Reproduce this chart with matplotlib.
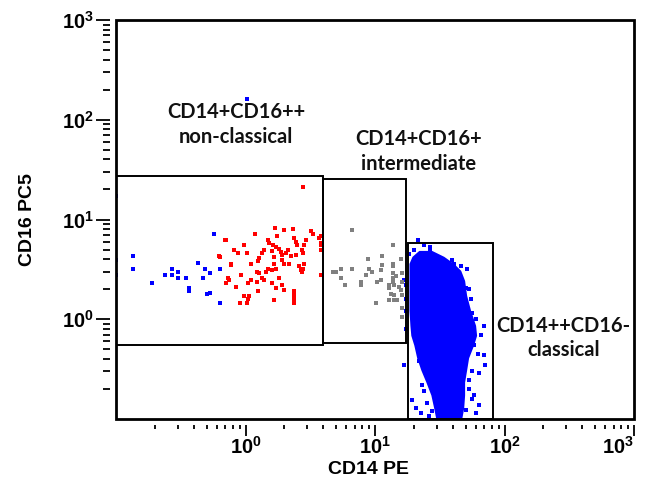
import math
import matplotlib
matplotlib.use("Agg")
import matplotlib.pyplot as plt
from matplotlib.patches import Rectangle
from matplotlib.ticker import LogLocator, FixedLocator, FuncFormatter, NullFormatter

plt.rcParams['mathtext.fontset'] = 'custom'
plt.rcParams['mathtext.rm'] = 'Liberation Sans:bold'
plt.rcParams['mathtext.bf'] = 'Liberation Sans:bold'
plt.rcParams['mathtext.it'] = 'Liberation Sans:bold'

# CD14 PE (x) / CD16 PC5 (y) values
# non-classical region, low CD14 events (blue)
low_x = [0.57, 0.135, 0.135, 0.43, 0.19, 0.24, 0.27, 0.27, 0.30, 0.30, 0.345, 0.47,
         0.49, 0.53, 0.365, 0.365, 0.50, 0.53, 0.63, 0.63, 1.02, 0.1, 0.1, 0.1]
low_y = [7.2, 4.3, 3.2, 3.7, 2.3, 2.8, 3.2, 2.8, 2.95, 2.6, 2.6, 2.6,
         3.2, 2.9, 2.05, 1.9, 1.8, 1.85, 3.2, 1.45, 160, 17.4, 3.9, 2.75]

# non-classical monocytes (red)
red_x = [1.70, 2.34, 2.0, 3.2, 3.3, 3.84, 1.19, 1.76, 0.71, 1.48, 1.53, 2.38, 2.47, 2.51,
         2.95, 2.84, 3.84, 3.84, 0.97, 1.64, 1.73, 1.83, 0.81, 0.87, 1.02, 1.40, 1.35, 1.89,
         1.93, 2.07, 2.14, 2.75, 2.79, 0.62, 1.28, 1.24, 1.67, 2.47, 0.77, 0.77, 1.11, 1.67,
         2.0, 2.18, 2.84, 1.48, 1.45, 1.59, 1.73, 1.22, 1.28, 2.70, 2.75, 0.93, 1.35, 1.40,
         3.84, 0.73, 0.75, 0.71, 1.11, 1.83, 1.04, 1.22, 1.59, 0.85, 1.93, 2.0, 1.73, 1.24,
         2.38, 1.07, 1.04, 0.98, 2.38, 2.38, 1.67, 0.90, 1.02, 2.38, 2.8, 0.70, 0.63, 2.79,
         3.7, 3.84, 1.6, 2.25, 1.9, 2.6]
red_y = [8.3, 8.1, 7.8, 7.6, 7.2, 6.8, 7.1, 6.8, 6.2, 6.2, 5.75, 6.5, 5.9, 5.6,
         6.2, 5.6, 5.75, 5.0, 5.6, 5.5, 5.25, 5.1, 5.0, 4.6, 4.6, 4.9, 4.6, 4.7,
         4.4, 4.6, 5.0, 5.0, 4.6, 4.3, 4.1, 3.8, 4.2, 4.4, 3.6, 3.5, 3.55, 3.6,
         3.6, 3.6, 3.6, 3.2, 2.95, 3.1, 3.2, 2.95, 2.9, 3.1, 2.95, 2.75, 2.6, 2.5,
         2.8, 2.6, 2.45, 2.3, 2.45, 2.6, 2.3, 2.35, 2.3, 2.1, 2.2, 1.95, 2.05, 1.9,
         1.9, 1.7, 1.6, 1.7, 1.75, 1.6, 1.55, 1.45, 1.45, 1.45, 21, 6.2, 4.2, 3.2,
         6.6, 5.5, 4.8, 4.3, 3.9, 3.4]

# intermediate monocytes (grey)
grey_x = [6.65, 13.8, 8.8, 11.3, 11.3, 13.8, 13.8, 15.8, 4.7, 5.0, 5.5, 6.65, 9.0, 9.5,
          8.5, 5.5, 11.1, 11.1, 13.8, 14.5, 13.8, 16.1, 5.9, 7.8, 7.8, 10.4, 12.8, 12.8,
          13.8, 14.0, 15.3, 15.8, 13.3, 14.0, 16.1, 10.2, 12.8, 14.0, 14.8, 16.1, 16.1, 16.1]
grey_y = [7.8, 5.6, 4.0, 4.3, 3.5, 3.6, 3.4, 4.0, 2.95, 3.0, 3.2, 3.2, 3.2, 2.95,
          2.75, 2.6, 3.1, 2.45, 2.9, 2.7, 2.6, 2.9, 2.2, 2.35, 2.2, 2.35, 2.2, 2.05,
          2.35, 2.2, 2.1, 1.95, 1.8, 1.75, 1.75, 1.45, 1.55, 1.55, 1.55, 1.3, 2.35, 1.05]

# classical monocytes: dense core outline (CD16 level, CD14 low / high edge)
core_y = [4.9, 4.27, 3.63, 3.09, 2.45, 1.74, 1.23, 0.87, 0.69, 0.55, 0.41, 0.31,
          0.235, 0.174, 0.129, 0.1]
core_lo = [21.8, 19.3, 18.3, 18.3, 18.3, 18.3, 18.3, 18.6, 18.9, 19.95, 21.0, 22.6,
           24.7, 27.0, 28.4, 29.5]
core_hi = [27.4, 34.0, 40.5, 45.9, 49.2, 51.0, 54.7, 59.8, 60.9, 57.7, 52.8, 51.0,
           49.2, 49.2, 48.4, 46.7]

# classical monocytes: scattered events around the core
cl_x = [21.4, 26.5, 26.5, 21.8, 18.3, 31.1, 32.8, 39.1, 40.5, 45.9, 51.0, 38.4, 50.0,
        52.8, 54.7, 55.7, 68.9, 70.2, 68.9, 63.1, 65.3, 16.7, 21.8, 23.0, 19.3, 20.7,
        22.6, 27.4, 55.7, 63.1, 50.0, 59.8, 26.0, 44.3, 16.7, 17.5, 17.5, 17.5, 17.5,
        23.8, 19.95, 57.7, 52.8, 57.7, 60.0, 35.0, 24.0, 25.0, 56.0, 53.0, 62.0]
cl_y = [6.2, 5.25, 4.8, 4.3, 4.5, 3.9, 3.6, 3.9, 3.6, 3.4, 3.2, 2.8, 2.05,
        2.0, 1.6, 1.15, 0.85, 0.35, 0.44, 0.29, 0.69, 0.35, 0.38, 0.22, 0.155, 0.13,
        0.115, 0.12, 0.16, 0.138, 0.123, 0.115, 0.107, 0.107, 2.45, 2.2, 1.6, 1.2, 0.8,
        5.5, 4.9, 0.55, 0.245, 0.175, 1.0, 0.105, 0.19, 0.145, 0.3, 0.2, 0.45]

# gates: (x0, x1, y0, y1)
gates = [(0.1, 4.0, 0.55, 27.0), (4.0, 17.3, 0.575, 25.7), (17.9, 82.0, 0.1, 5.75)]
gate_labels = ["CD14+CD16++\nnon-classical", "CD14+CD16+\nintermediate", "CD14++CD16-\nclassical"]
label_pos = [(0.85, 89), (21.8, 48), (284, 0.65)]

blue = '#0000ff'
fig = plt.figure(figsize=(6.46, 4.87), dpi=100)
ax = fig.add_axes([116 / 646, 1 - 419 / 487, 518 / 646, 399 / 487])
ax.set_xscale('log')
ax.set_yscale('log')
ax.set_xlim(0.1, 1000)
ax.set_ylim(0.1, 1000)

ms = 8
ax.fill_betweenx(core_y, core_lo, core_hi, color=blue, lw=0, zorder=2)
ax.scatter(cl_x, cl_y, s=ms, marker='s', c=blue, linewidths=0, zorder=2)
ax.scatter(low_x, low_y, s=ms, marker='s', c=blue, linewidths=0, zorder=2)
ax.scatter(red_x, red_y, s=ms, marker='s', c='#ff0000', linewidths=0, zorder=2)
ax.scatter(grey_x, grey_y, s=ms, marker='s', c='#808080', linewidths=0, zorder=2)

for (x0, x1, y0, y1) in gates:
    ax.add_patch(Rectangle((x0, y0), x1 - x0, y1 - y0, fill=False, ec='black', lw=1.4, zorder=3))

for txt, (tx, ty) in zip(gate_labels, label_pos):
    ax.text(tx, ty, txt, ha='center', va='center', fontsize=14.5, fontweight='bold',
            family='Lato', linespacing=1.3, color='#111111')

# frame drawn separately so the ticks can sit a few pixels away from it
ax.add_patch(Rectangle((0, 0), 1, 1, transform=ax.transAxes, fill=False, ec='black',
                       lw=2, clip_on=False, zorder=5))
for side in ('top', 'right'):
    ax.spines[side].set_visible(False)
for side in ('left', 'bottom'):
    ax.spines[side].set_position(('outward', 4))
    ax.spines[side].set_visible(False)

majors = [1, 10, 100, 1000]
for axis in (ax.xaxis, ax.yaxis):
    axis.set_major_locator(FixedLocator(majors))
    axis.set_minor_locator(LogLocator(base=10, subs=range(2, 10), numticks=20))
    axis.set_major_formatter(FuncFormatter(lambda v, p: r'$\mathbf{10^{%d}}$' % round(math.log10(v))))
    axis.set_minor_formatter(NullFormatter())

ax.tick_params(axis='y', which='major', direction='out', length=10, width=1.3, labelsize=14.5, pad=2)
ax.tick_params(axis='y', which='minor', direction='out', length=5, width=1.3)
ax.tick_params(axis='x', which='major', direction='out', length=8, width=1.3, labelsize=14.5, pad=0)
ax.tick_params(axis='x', which='minor', direction='out', length=3, width=1.3)
ax.get_xticklabels()[-1].set_horizontalalignment('right')

fig.text(28 / 646, 1 - 220 / 487, 'CD16 PC5', rotation=90, ha='center', va='center',
         fontsize=14, fontweight='bold', family='Liberation Sans')
fig.text(368 / 646, 1 - 470 / 487, 'CD14 PE', ha='center', va='center',
         fontsize=14, fontweight='bold', family='Liberation Sans')

fig.savefig('out.png', dpi=100)
